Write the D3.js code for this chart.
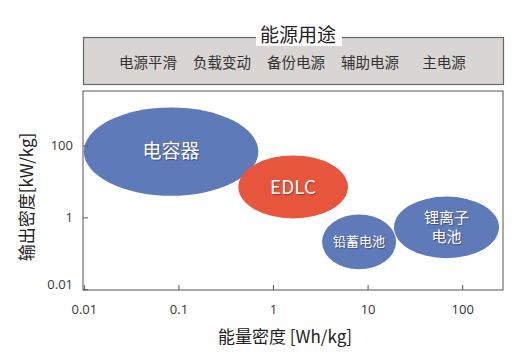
<!DOCTYPE html>
<html>
<head>
<meta charset="utf-8">
<script src="https://cdn.jsdelivr.net/npm/d3@7"></script>
<style>
  body { margin: 0; background: #fff; }
  text { font-family: "Noto Sans CJK SC", "Noto Sans", sans-serif; }
</style>
</head>
<body>
<div id="chart"></div>
<script>
// chart size
var width = 529,
    height = 358;
var margin = {top: 91, right: 26, bottom: 68, left: 83};
var innerW = width - margin.left - margin.right,
    innerH = height - margin.top - margin.bottom;

// data
var uses = ["电源平滑", "负载变动", "备份电源", "辅助电源", "主电源"];
var names = ["电容器", "EDLC", "铅蓄电池", "锂离子\n电池"];
var energyMin = [0.01, 0.43, 3.3, 19];     // Wh/kg
var energyMax = [0.7, 6.2, 20, 245];
var powerMin = [4, 0.93, 0.036, 0.073];     // kW/kg
var powerMax = [1150, 53, 1.2, 3.8];
var kinds = ["blue", "red", "blue", "blue"];
var xTicks = [0.01, 0.1, 1, 10, 100];
var yTicks = [0.01, 1, 100];

var color = d3.scaleOrdinal().domain(["blue", "red"]).range(["#5f7ab9", "#e8553d"]);

var x = d3.scaleLog().domain([0.0098, 270]).range([0, innerW]);
var y = d3.scaleLog().domain([0.0095, 3300]).range([innerH, 0]);

var svg = d3.select("#chart").append("svg")
    .attr("width", width)
    .attr("height", height);

// top "energy use" box
var box = svg.append("g");
box.append("rect")
    .attr("x", 83.5).attr("y", 37.5)
    .attr("width", 420).attr("height", 47)
    .attr("fill", "#d9d5d3")
    .attr("stroke", "#666").attr("stroke-width", 1.2);
box.append("rect")
    .attr("x", 256).attr("y", 24)
    .attr("width", 86).attr("height", 22)
    .attr("fill", "#fff");
box.append("text")
    .attr("x", 298).attr("y", 35)
    .attr("dy", "0.35em")
    .attr("text-anchor", "middle")
    .attr("font-size", 19)
    .attr("fill", "#222")
    .text("能源用途");

var useX = d3.scalePoint().domain(uses).range([148, 444]);
box.selectAll(".use")
    .data(uses)
    .enter().append("text")
    .attr("class", "use")
    .attr("x", function(d) { return useX(d); })
    .attr("y", 63)
    .attr("dy", "0.35em")
    .attr("text-anchor", "middle")
    .attr("font-size", 14.5)
    .attr("fill", "#333")
    .text(function(d) { return d; });

var g = svg.append("g")
    .attr("transform", "translate(" + margin.left + "," + margin.top + ")");

// ellipses
var items = names.map(function(n, i) {
  return {name: n, kind: kinds[i],
    x0: x(energyMin[i]), x1: x(energyMax[i]),
    y0: y(powerMax[i]), y1: y(powerMin[i])};
});

g.append("clipPath").attr("id", "plotclip")
  .append("rect").attr("width", innerW).attr("height", innerH);

var bubble = g.selectAll(".bubble")
    .data(items)
    .enter().append("g")
    .attr("class", "bubble")
    .attr("clip-path", "url(#plotclip)");

bubble.append("ellipse")
    .attr("cx", function(d) { return (d.x0 + d.x1) / 2; })
    .attr("cy", function(d) { return (d.y0 + d.y1) / 2; })
    .attr("rx", function(d) { return (d.x1 - d.x0) / 2; })
    .attr("ry", function(d) { return (d.y1 - d.y0) / 2; })
    .attr("fill", function(d) { return color(d.kind); });

var fontSizes = [19, 19, 13, 15];
bubble.each(function(d, i) {
  var lines = d.name.split("\n");
  var t = d3.select(this).append("text")
      .attr("text-anchor", "middle")
      .attr("font-size", fontSizes[i])
      .attr("fill", "#fff")
      .style("text-shadow", "1px 1px 1px rgba(0,0,0,0.35)");
  var cx = (d.x0 + d.x1) / 2, cy = (d.y0 + d.y1) / 2;
  lines.forEach(function(l, k) {
    t.append("tspan")
      .attr("x", cx)
      .attr("y", cy + (k - (lines.length - 1) / 2) * 19)
      .attr("dy", "0.35em")
      .text(l);
  });
});

// frame
g.append("rect")
    .attr("width", innerW).attr("height", innerH)
    .attr("fill", "none")
    .attr("stroke", "#555").attr("stroke-width", 1);

// axes (ticks inside)
var xAxis = g.append("g")
    .attr("transform", "translate(0," + innerH + ")")
    .call(d3.axisBottom(x).tickValues(xTicks).tickSizeInner(-5).tickSizeOuter(0).tickPadding(15)
      .tickFormat(function(d) { return d3.format("~g")(d); }));
var yAxis = g.append("g")
    .call(d3.axisLeft(y).tickValues(yTicks).tickSizeInner(-5).tickSizeOuter(0).tickPadding(10)
      .tickFormat(function(d) { return d3.format("~g")(d); }));

[xAxis, yAxis].forEach(function(a) {
  a.select(".domain").remove();
  a.selectAll("line").attr("stroke", "#555");
  a.selectAll("text")
      .attr("font-size", 13)
      .attr("fill", "#333")
      .style("font-family", "'Open Sans', 'Noto Sans', sans-serif");
});
yAxis.selectAll(".tick").filter(function(d) { return d === 0.01; })
    .select("text").attr("dy", "-0.05em");

// axis titles
svg.append("text")
    .attr("x", 285).attr("y", 337)
    .attr("dy", "0.35em")
    .attr("text-anchor", "middle")
    .attr("font-size", 17)
    .attr("fill", "#222")
    .text("能量密度  [Wh/kg]");

svg.append("text")
    .attr("transform", "translate(27,197) rotate(-90)")
    .attr("dy", "0.35em")
    .attr("text-anchor", "middle")
    .attr("font-size", 17)
    .attr("fill", "#222")
    .text("输出密度[kW/kg]");
</script>
</body>
</html>
